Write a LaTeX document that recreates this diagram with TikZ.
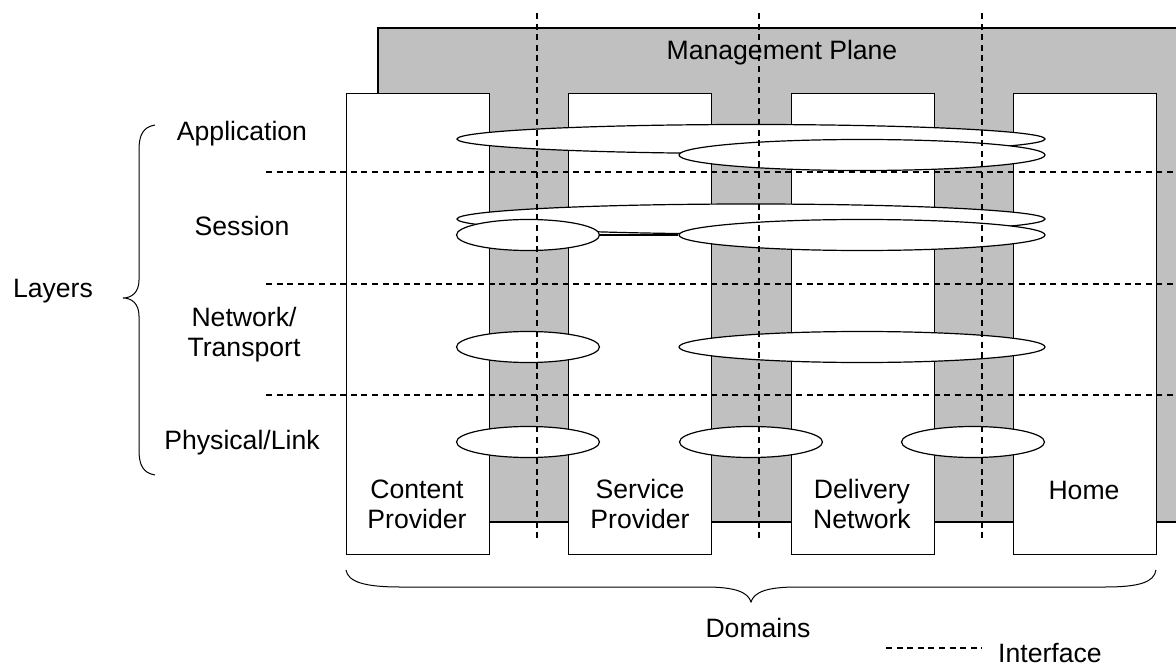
\documentclass[tikz,border=0pt]{standalone}
\usepackage{fontspec}
\setmainfont{Liberation Sans}
\usetikzlibrary{shapes.geometric}
\definecolor{planegray}{RGB}{192,192,192}

\begin{document}
\begin{tikzpicture}[x=1pt,y=-1pt,
  every node/.style={font=\fontsize{26.6}{30}\selectfont},
  domainbox/.style={draw,fill=white,line width=1.2pt,minimum width=143pt,
    minimum height=461pt,anchor=north west,inner sep=0pt},
  link/.style={ellipse,draw,fill=white,line width=1.2pt,inner sep=0pt,
    minimum height=31pt},
  iface/.style={dash pattern=on 6pt off 4.6pt,line width=1.1pt},
  lbl/.style={align=center,inner sep=0pt}]
\useasboundingbox (0,0) rectangle (1176,666);

% management plane
\draw[fill=planegray,line width=1.2pt] (378,28) rectangle (1190,522);
\node[lbl] (mgmt) at (782,53) {Management Plane};

% domains
\node[domainbox] (cp) at (346,93) {};
\node[domainbox] (sp) at (568,93) {};
\node[domainbox] (dn) at (791,93) {};
\node[domainbox] (home) at (1013,93) {};

\node[lbl] (cptext) at (417,504) {Content\\Provider};
\node[lbl] (sptext) at (640,504) {Service\\Provider};
\node[lbl] (dntext) at (862,504) {Delivery\\Network};
\node[lbl] (hometext) at (1084,490) {Home};

% application
\node[link, minimum width=588pt, minimum height=29pt] (app1) at (751,139) {};
\node[link, minimum width=366pt] (app2) at (862,155) {};

% session
\node[link, minimum width=588pt, minimum height=30pt] (ses1) at (751,219) {};
\node[link, minimum width=143pt] (ses2) at (528,235) {};
\node[link, minimum width=366pt] (ses3) at (862,235) {};
\draw[line width=1.2pt] (ses2.east) -- (ses3.west);

% network/transport
\node[link, minimum width=143pt] (net1) at (528,347) {};
\node[link, minimum width=366pt] (net2) at (862,347) {};

% physical/link
\node[link, minimum width=143pt] (phy1) at (528,442) {};
\node[link, minimum width=143pt] (phy2) at (751,442) {};
\node[link, minimum width=143pt] (phy3) at (973,442) {};

% interfaces
\foreach \x in {537,759,982}
  \draw[iface] (\x,13) -- (\x,538);
\foreach \y in {172,284,395}
  \draw[iface] (266,\y) -- (1180,\y);

% layers
\node[lbl] (app) at (242,134) {Application};
\node[lbl] (ses) at (242,226) {Session};
\node[lbl] (net) at (244,335) {Network/\\Transport};
\node[lbl] (phy) at (242,443) {Physical/Link};
\node[lbl] (layers) at (53,291) {Layers};
\draw[line width=1pt] (155,125) .. controls (143,127) and (139,135) .. (139,150)
  -- (139,280) .. controls (139,292) and (132,298) .. (123,298)
  .. controls (132,298) and (139,304) .. (139,316)
  -- (139,450) .. controls (139,465) and (143,473) .. (155,475);

% domains brace
\draw[line width=1pt] (346,570) .. controls (348,582) and (365,587) .. (400,587)
  -- (705,587) .. controls (735,587) and (748,592) .. (751,602)
  .. controls (754,592) and (767,587) .. (797,587)
  -- (1105,587) .. controls (1140,587) and (1154,582) .. (1156,570);
\node[lbl] (domains) at (758,628) {Domains};

% legend
\coordinate (legA) at (886,648);
\coordinate (legB) at (982,648);
\draw[iface] (legA) -- (legB);
\node[lbl, anchor=base west] (legtext) at (998,662) {Interface};

\end{tikzpicture}
\end{document}
